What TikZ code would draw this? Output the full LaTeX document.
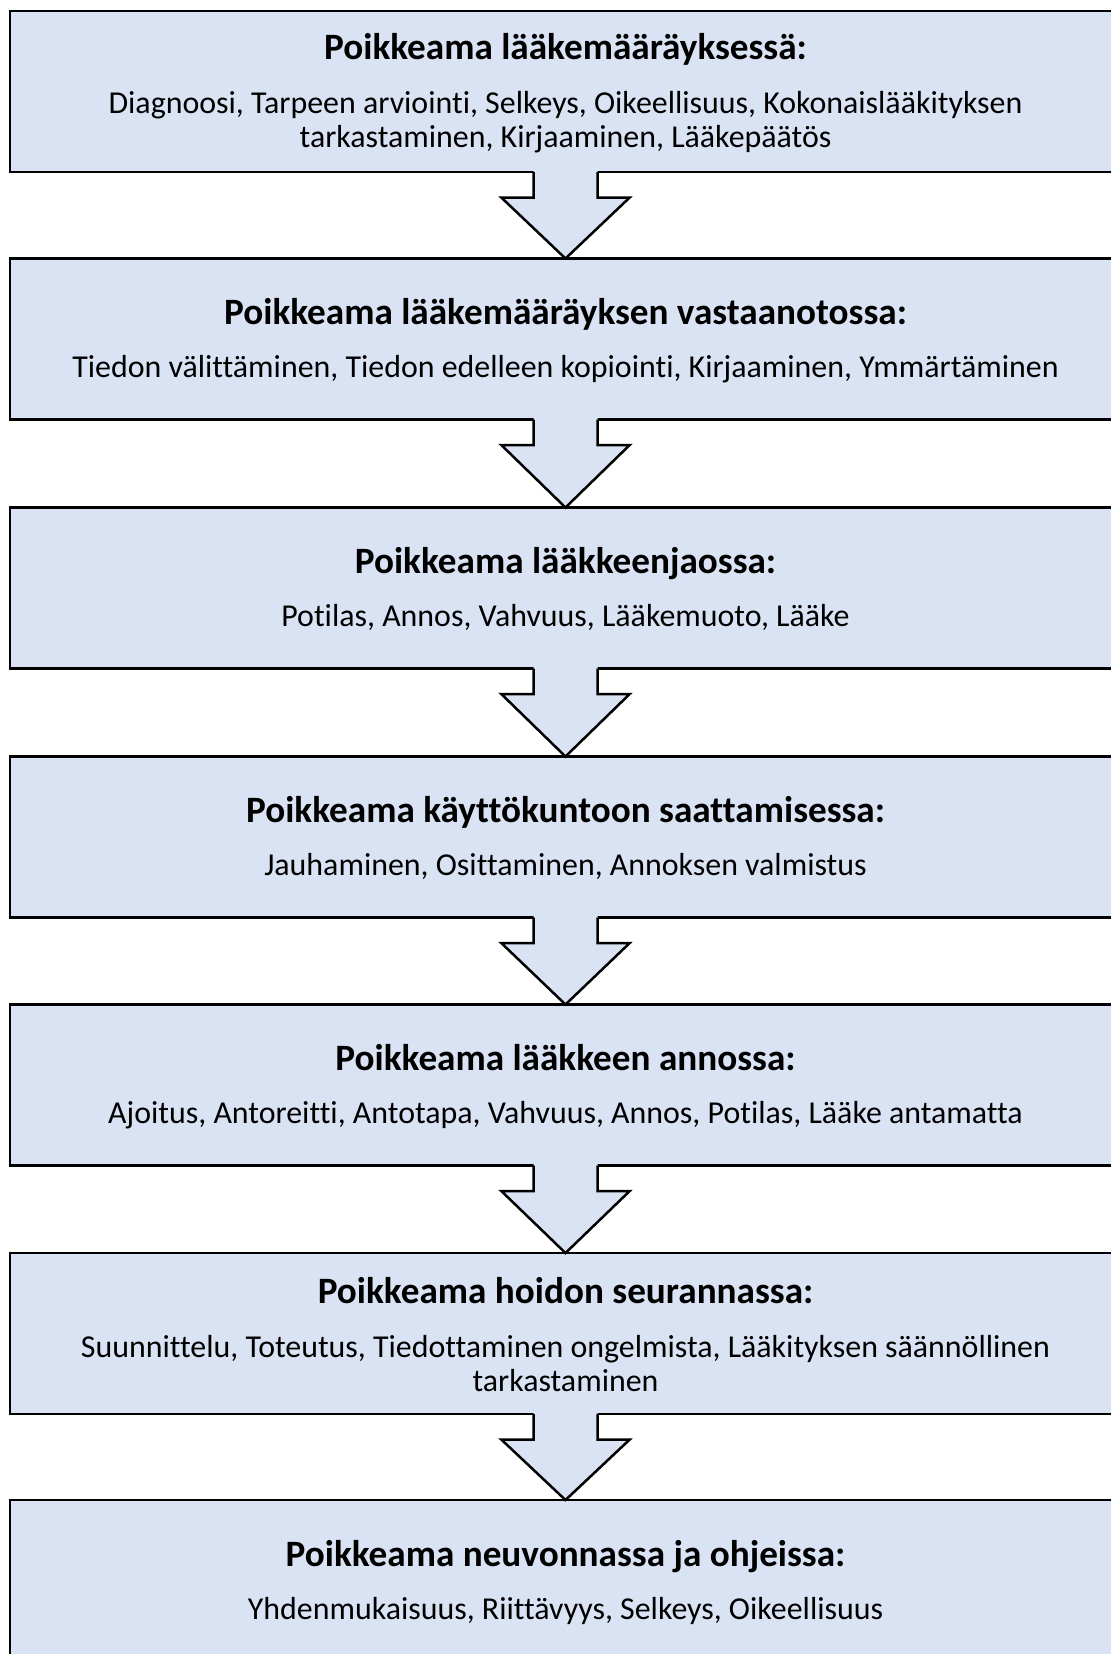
\documentclass[tikz,border=0pt]{standalone}
\usepackage{fontspec}
\setmainfont{Carlito}[Ligatures={NoCommon}]
\usetikzlibrary{calc}
\definecolor{boxfill}{HTML}{DAE3F3}
\tikzset{
  box/.style={draw=black, fill=boxfill, line width=1.25pt, rectangle,
    minimum width=555.5pt, minimum height=80.5pt, inner sep=0pt, outer sep=0pt},
  ttl/.style={anchor=base, inner sep=0pt, font=\fontsize{18.6}{22}\selectfont\bfseries},
  bdy/.style={anchor=base, inner sep=0pt, align=center, font=\fontsize{15.95}{16.9}\selectfont},
  arrowline/.style={draw=black, line width=1.25pt, line join=miter}
}
\newcommand\flowarrow[2]{%
  \fill[boxfill] ($(#1.south)+(-32,-2)$) -- ($(#1.south)+(-32,25.7)$) -- ($(#1.south)+(-64,25.7)$) -- (#2.north) -- ($(#1.south)+(64,25.7)$) -- ($(#1.south)+(32,25.7)$) -- ($(#1.south)+(32,-2)$) -- cycle;
  \draw[arrowline] ($(#1.south)+(-32,0)$) -- ($(#1.south)+(-32,25.7)$) -- ($(#1.south)+(-64,25.7)$) -- (#2.north) -- ($(#1.south)+(64,25.7)$) -- ($(#1.south)+(32,25.7)$) -- ($(#1.south)+(32,0)$);
}
\begin{document}
\begin{tikzpicture}[x=0.5pt, y=-0.5pt]
\useasboundingbox (0,0) rectangle (1111,1654);
\clip (0,0) rectangle (1111,1654);
\fill[white] (0,0) rectangle (1111,1654);
% boxes
\node[box] (b1) at (565.5, 91.5) {};
\node[box] (b2) at (565.5, 339) {};
\node[box] (b3) at (565.5, 588) {};
\node[box] (b4) at (565.5, 837) {};
\node[box] (b5) at (565.5, 1085) {};
\node[box] (b6) at (565.5, 1333.5) {};
\node[box] (b7) at (565.5, 1580.5) {};
% arrows
\flowarrow{b1}{b2}
\flowarrow{b2}{b3}
\flowarrow{b3}{b4}
\flowarrow{b4}{b5}
\flowarrow{b5}{b6}
\flowarrow{b6}{b7}
% texts
\node[ttl] (t1) at (565.5, 59.3) {Poikkeama lääkemääräyksessä:};
\node[bdy] (d1) at (565.5, 147.3) {Diagnoosi, Tarpeen arviointi, Selkeys, Oikeellisuus, Kokonaislääkityksen\\tarkastaminen, Kirjaaminen, Lääkepäätös};
\node[ttl] (t2) at (565.5, 324.5) {Poikkeama lääkemääräyksen vastaanotossa:};
\node[bdy] (d2) at (565.5, 377.5) {Tiedon välittäminen, Tiedon edelleen kopiointi, Kirjaaminen, Ymmärtäminen};
\node[ttl] (t3) at (565.5, 573.5) {Poikkeama lääkkeenjaossa:};
\node[bdy] (d3) at (565.5, 626.5) {Potilas, Annos, Vahvuus, Lääkemuoto, Lääke};
\node[ttl] (t4) at (565.5, 822.5) {Poikkeama käyttökuntoon saattamisessa:};
\node[bdy] (d4) at (565.5, 875.5) {Jauhaminen, Osittaminen, Annoksen valmistus};
\node[ttl] (t5) at (565.5, 1070.5) {Poikkeama lääkkeen annossa:};
\node[bdy] (d5) at (565.5, 1123.5) {Ajoitus, Antoreitti, Antotapa, Vahvuus, Annos, Potilas, Lääke antamatta};
\node[ttl] (t6) at (565.5, 1303.5) {Poikkeama hoidon seurannassa:};
\node[bdy] (d6) at (565.5, 1391.5) {Suunnittelu, Toteutus, Tiedottaminen ongelmista, Lääkityksen säännöllinen\\tarkastaminen};
\node[ttl] (t7) at (565.5, 1566.5) {Poikkeama neuvonnassa ja ohjeissa:};
\node[bdy] (d7) at (565.5, 1619.5) {Yhdenmukaisuus, Riittävyys, Selkeys, Oikeellisuus};
\end{tikzpicture}
\end{document}
